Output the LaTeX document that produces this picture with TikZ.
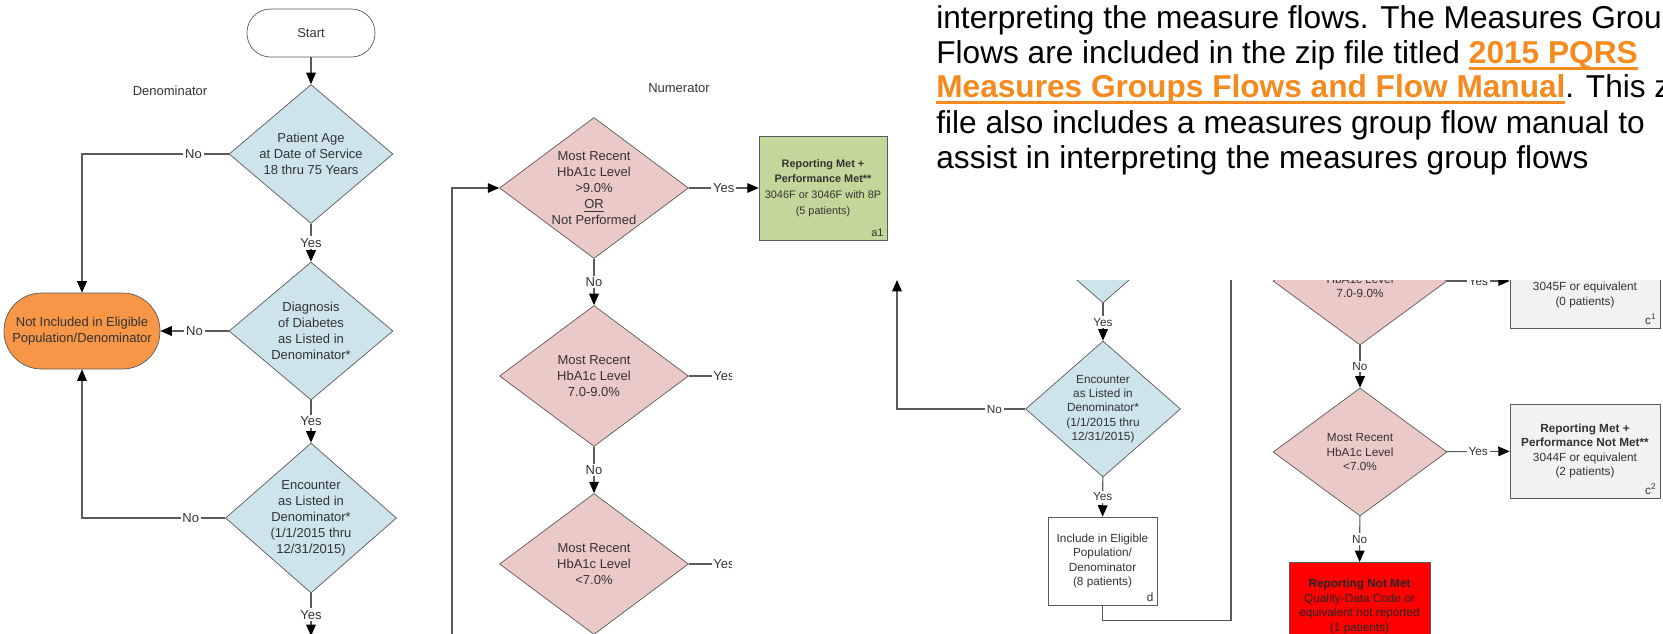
\documentclass[tikz,border=0pt]{standalone}
\usepackage{fontspec}
\setmainfont{Liberation Sans}
\usetikzlibrary{shapes.geometric,arrows.meta}

\definecolor{linegray}{HTML}{5A5A5A}
\definecolor{txtgray}{HTML}{333333}
\definecolor{diablue}{HTML}{CDE4EC}
\definecolor{diapink}{HTML}{EBC9C6}
\definecolor{metgreen}{HTML}{C4D79B}
\definecolor{exclorange}{HTML}{F79646}
\definecolor{boxgray}{HTML}{F2F2F2}
\definecolor{linkorange}{HTML}{F58A1F}

\newcommand\pqrslink[1]{\textcolor{linkorange}{\bfseries\setbox0\hbox{#1}\rlap{\rule[-3.9pt]{\wd0}{1.6pt}}\box0}}

\begin{document}
\begin{tikzpicture}[x=0.02cm,y=-0.02cm,
  font=\fontsize{7.4}{9.1}\selectfont, text=txtgray,
  every node/.style={align=center},
  bluedia/.style={diamond, draw=linegray, fill=diablue, inner sep=0pt},
  pinkdia/.style={diamond, draw=linegray, fill=diapink, inner sep=0pt},
  term/.style={rectangle, rounded corners=0.47cm, draw=linegray, fill=white, minimum width=2.56cm, minimum height=0.96cm},
  excl/.style={rectangle, rounded corners=0.75cm, draw=linegray, fill=exclorange, minimum width=3.12cm, minimum height=1.52cm},
  resbox/.style={rectangle, draw=linegray, inner sep=1pt},
  corner/.style={anchor=south east, inner sep=2pt},
  lbl/.style={fill=white, inner sep=1pt},
  conn/.style={draw=linegray, line width=0.6pt, -{Triangle[length=6.5pt,width=5.5pt,color=black]}},
  wire/.style={draw=linegray, line width=0.6pt},
  para/.style={anchor=base west, inner sep=0pt, text=black, font=\fontsize{18}{20}\selectfont}]

\useasboundingbox (0,0) rectangle (1663,633);
\clip (0,0) rectangle (1663,633);

% denominator
\node[term] (start) at (311,33) {Start};
\node (denlbl) at (170,91) {Denominator};
\node[bluedia, minimum width=3.28cm, minimum height=2.78cm, aspect=1.18] (age) at (311,154) {Patient Age\\at Date of Service\\18 thru 75 Years};
\node[bluedia, minimum width=3.28cm, minimum height=2.76cm, aspect=1.18] (diab) at (311,331) {Diagnosis\\of Diabetes\\as Listed in\\Denominator*};
\node[bluedia, minimum width=3.42cm, minimum height=3cm, aspect=1.14] (enc) at (311,518) {Encounter\\as Listed in\\Denominator*\\(1/1/2015 thru\\12/31/2015)};
\node[excl] (notinc) at (82,331) {Not Included in Eligible\\Population/Denominator};
\coordinate (encout) at (311,636);

\draw[conn] (start) -- (age);
\draw[conn] (age) -- node[lbl]{Yes} (diab);
\draw[conn] (diab) -- node[lbl]{Yes} (enc);
\draw[conn] (enc) -- node[lbl]{Yes} (encout);
\draw[conn] (age.west) -| node[lbl,pos=0.12]{No} (notinc.north);
\draw[conn] (diab.west) -- node[lbl]{No} (notinc.east);
\draw[conn] (enc.west) -| node[lbl,pos=0.12]{No} (notinc.south);

% numerator
\node (numlbl) at (679,88) {Numerator};
\node[pinkdia, minimum width=3.78cm, minimum height=2.82cm, aspect=1.34] (poor) at (594,188) {Most Recent\\HbA1c Level\\>9.0\%\\\underline{OR}\\Not Performed};
\node[resbox, fill=metgreen, minimum width=2.56cm, minimum height=2.08cm, font=\fontsize{6.2}{9}\selectfont] (met) at (823,188) {\textbf{Reporting Met +}\\\textbf{Performance Met**}\\3046F or 3046F with 8P\\(5 patients)};
\node[corner, font=\fontsize{6.2}{9}\selectfont] (meta1) at (met.south east) {a1};
\node[pinkdia, minimum width=3.78cm, minimum height=2.82cm, aspect=1.34] (mid) at (594,376) {Most Recent\\HbA1c Level\\7.0-9.0\%};
\node[pinkdia, minimum width=3.78cm, minimum height=2.82cm, aspect=1.34] (good) at (594,564) {Most Recent\\HbA1c Level\\<7.0\%};
\coordinate (loopin) at (452,640);
\coordinate (midyes) at (759,376);
\coordinate (goodyes) at (759,564);

\draw[conn] (loopin) |- (poor.west);
\draw[conn] (poor) -- node[lbl]{Yes} (met);
\draw[conn] (poor) -- node[lbl]{No} (mid);
\draw[conn] (mid) -- node[lbl]{No} (good);
\begin{scope}
\clip (440,290) rectangle (731,633);
\draw[conn] (mid) -- node[lbl]{Yes} (midyes);
\draw[conn] (good) -- node[lbl]{Yes} (goodyes);
\end{scope}

% text
\node[para] (line1) at (936,28) {interpreting the measure flows. The Measures Groups};
\node[para] (line2) at (936,63) {Flows are included in the zip file titled \pqrslink{2015 PQRS}};
\node[para] (line3) at (936,97) {\pqrslink{Measures Groups Flows and Flow Manual}. This zip};
\node[para] (line4) at (936,133) {file also includes a measures group flow manual to};
\node[para] (line5) at (936,168) {assist in interpreting the measures group flows};

% second flow
\begin{scope}[font=\fontsize{6.7}{8.2}\selectfont]
\clip (860,280) rectangle (1663,633);
\node[bluedia, minimum width=3.1cm, minimum height=2.72cm, aspect=1.14] (diab2) at (1103,235) {};
\node[bluedia, minimum width=3.1cm, minimum height=2.72cm, aspect=1.14] (enc2) at (1103,409) {Encounter\\as Listed in\\Denominator*\\(1/1/2015 thru\\12/31/2015)};
\node[resbox, fill=white, minimum width=2.18cm, minimum height=1.76cm] (incl) at (1102.5,561) {Include in Eligible\\Population/\\Denominator\\(8 patients)};
\node[corner] (incld) at (incl.south east) {d};
\coordinate (encno) at (897,280);
\coordinate (numin) at (1231,270);

\draw[conn] (diab2) -- node[lbl]{Yes} (enc2);
\draw[conn] (enc2) -- node[lbl]{Yes} (incl);
\draw[conn] (enc2.west) -| node[lbl,pos=0.12]{No} (encno);
\draw[wire] (incl.south) -- ++(0,15) -| (numin);

\node[pinkdia, minimum width=3.48cm, minimum height=2.56cm, aspect=1.36] (mid2) at (1360,281) {};
\node (mid2txt) at (1360,286) {HbA1c Level\\7.0-9.0\%};
\node[resbox, fill=boxgray, minimum width=3cm, minimum height=1.88cm] (notmet1) at (1585,281) {};
\node (notmet1txt) at (1585,295) {3045F or equivalent\\(0 patients)};
\node[corner] (c1) at (notmet1.south east) {c\textsuperscript{1}};
\node[pinkdia, minimum width=3.48cm, minimum height=2.56cm, aspect=1.36] (good2) at (1360,452) {Most Recent\\HbA1c Level\\<7.0\%};
\node[resbox, fill=boxgray, minimum width=3cm, minimum height=1.88cm] (notmet2) at (1585,451) {\textbf{Reporting Met +}\\\textbf{Performance Not Met**}\\3044F or equivalent\\(2 patients)};
\node[corner] (c2) at (notmet2.south east) {c\textsuperscript{2}};
\node[resbox, fill=red, anchor=north, minimum width=2.82cm, minimum height=1.76cm, text=black!85] (notrep) at (1359.5,562) {\textbf{Reporting Not Met}\\Quality-Data Code or\\equivalent not reported\\(1 patients)};

\draw[conn] (mid2) -- node[lbl]{Yes} (notmet1);
\draw[conn] (mid2) -- node[lbl]{No} (good2);
\draw[conn] (good2) -- node[lbl]{Yes} (notmet2);
\draw[conn] (good2) -- node[lbl]{No} (notrep);
\end{scope}
\end{tikzpicture}
\end{document}
